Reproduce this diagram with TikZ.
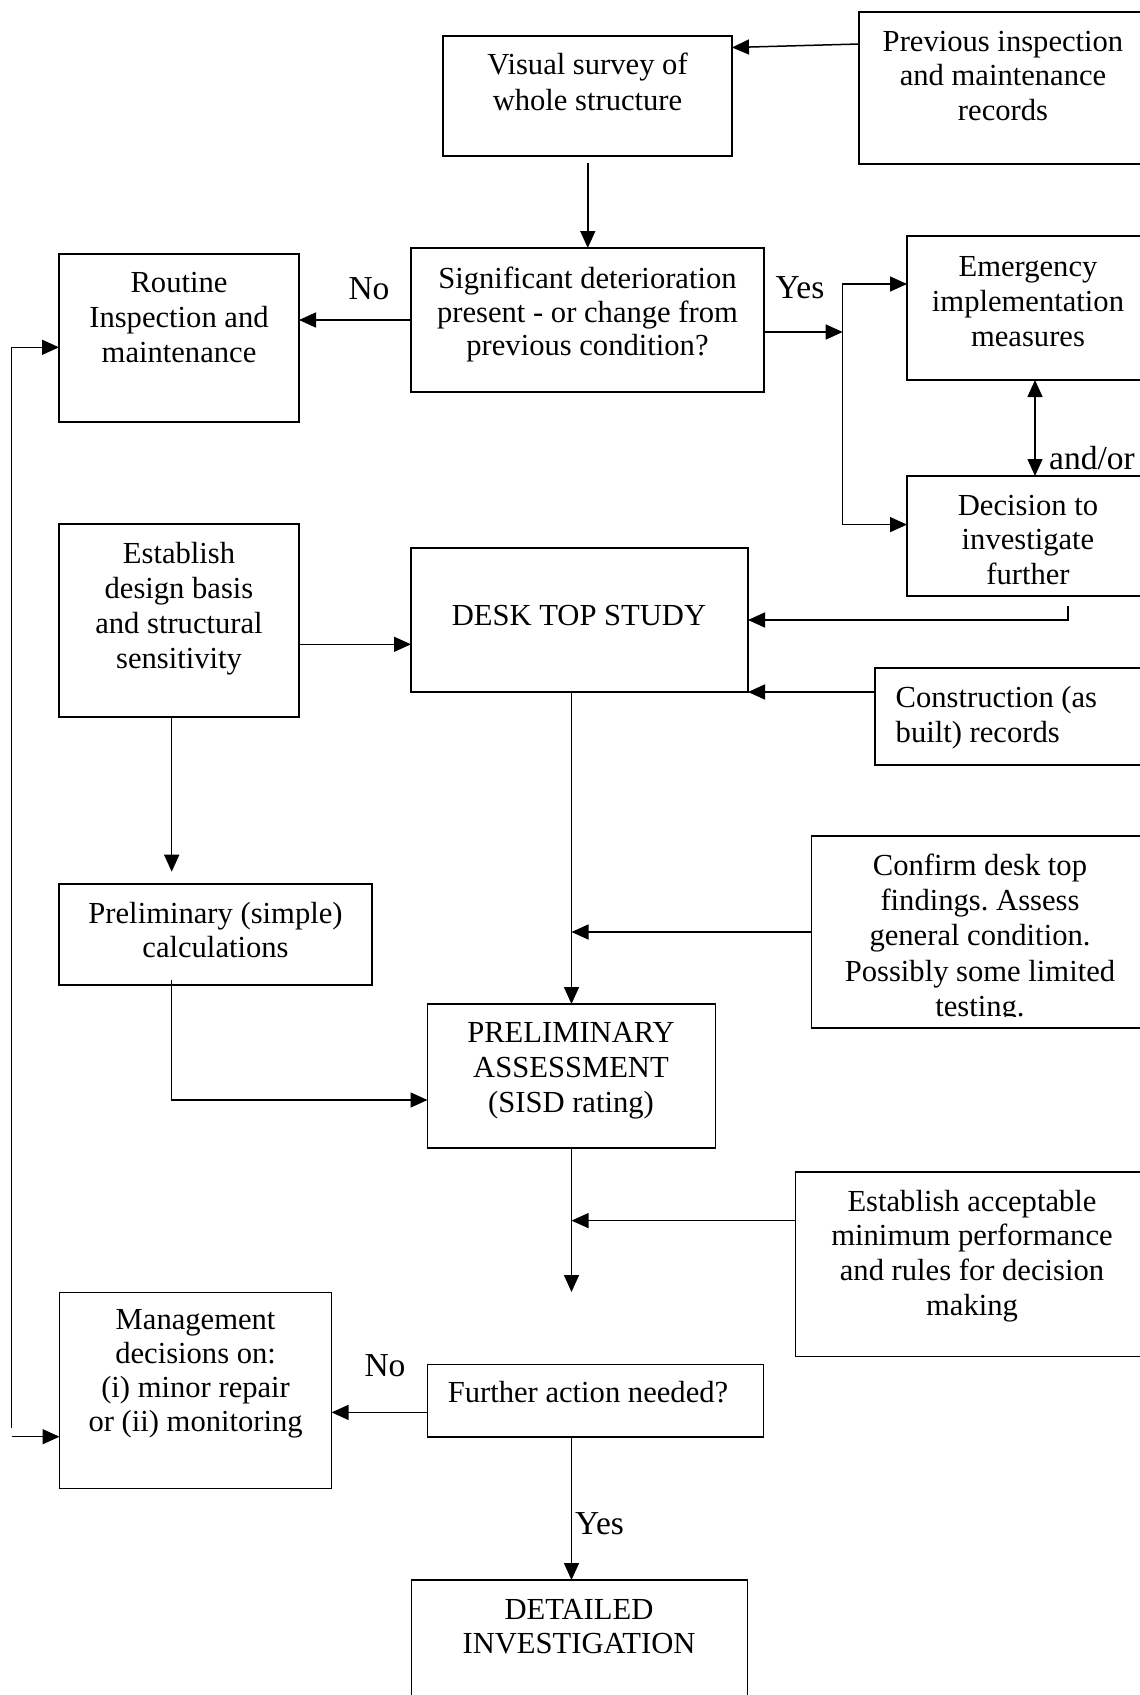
\documentclass[tikz,border=0pt]{standalone}
\usepackage{fontspec}
\setmainfont{Liberation Serif}
\usetikzlibrary{arrows.meta,calc}
\frenchspacing
\begin{document}
\begin{tikzpicture}[x=1pt,y=-1pt,
  bx/.style={draw,rectangle,line width=1.7pt,inner sep=0pt,outer sep=0pt},
  txt/.style={inner sep=0pt,align=center,font=\fontsize{30.6}{35}\selectfont},
  lbl/.style={inner sep=0pt,anchor=base,font=\fontsize{33.5}{38}\selectfont},
  arr/.style={line width=1.5pt,-{Triangle[length=17pt,width=15pt]}},
  arrb/.style={line width=1.5pt,{Triangle[length=17pt,width=15pt]}-{Triangle[length=17pt,width=15pt]}},
  ln/.style={line width=1.5pt}]
\useasboundingbox (0,0) rectangle (1140,1695);
\fill[white] (0,0) rectangle (1140,1695);

% boxes
\node[bx,minimum width=289pt,minimum height=120pt] (visual) at (587.5,96) {};
\node[bx,minimum width=291pt,minimum height=152pt] (prev) at (1004.5,88) {};
\node[bx,minimum width=353pt,minimum height=144pt] (sig) at (587.5,320) {};
\node[bx,minimum width=243pt,minimum height=144pt] (emerg) at (1028.5,308) {};
\node[bx,minimum width=243pt,minimum height=120pt] (decision) at (1028.5,536) {};
\node[bx,minimum width=240pt,minimum height=168pt] (routine) at (179,338) {};
\node[bx,minimum width=240pt,minimum height=193pt] (establish) at (179,620.5) {};
\node[bx,minimum width=337pt,minimum height=144pt] (desk) at (579.5,620) {};
\node[bx,minimum width=275pt,minimum height=97pt] (constr) at (1012.5,716.5) {};
\node[bx,minimum width=338.5pt,minimum height=192pt] (confirm) at (980.75,932) {};
\node[bx,minimum width=313pt,minimum height=101pt] (pcalc) at (215.5,934.5) {};
\node[bx,minimum width=288pt,minimum height=144pt] (passess) at (571.5,1076) {};
\node[bx,minimum width=354.4pt,minimum height=184.5pt] (estacc) at (972.8,1264.25) {};
\node[bx,minimum width=272.1pt,minimum height=196pt] (mgmt) at (195.55,1390.5) {};
\node[bx,minimum width=336pt,minimum height=72.5pt] (further) at (595.6,1400.75) {};
\node[bx,minimum width=336.1pt,minimum height=140pt] (detailed) at (579.55,1650) {};

% texts
\node[txt,anchor=north,font=\fontsize{30.6}{35.5}\selectfont] (visual-t) at (587.5,53) {Visual survey of\\whole structure};
\node[txt,anchor=north,font=\fontsize{30.6}{34.5}\selectfont] (prev-t) at (1003,31) {Previous inspection\\and maintenance\\records};
\node[txt,anchor=north,font=\fontsize{30.6}{33.7}\selectfont] (sig-t) at (587.5,266.7) {Significant deterioration\\present - or change from\\previous condition?};
\node[txt,anchor=north] (emerg-t) at (1028,256) {Emergency\\implementation\\measures};
\node[txt,anchor=north,font=\fontsize{30.6}{34.5}\selectfont] (decision-t) at (1028,495) {Decision to\\investigate\\further};
\node[txt,anchor=north] (routine-t) at (179,272.3) {Routine\\Inspection and\\maintenance};
\node[txt,anchor=north] (establish-t) at (179,542.3) {Establish\\design basis\\and structural\\sensitivity};
\node[txt,anchor=base] (desk-t) at (579,625.7) {DESK TOP STUDY};
\node[txt,anchor=north west,align=left,font=\fontsize{30.6}{35.7}\selectfont] (constr-t) at (895.5,685.8) {Construction (as\\built) records};
\begin{scope}
\clip (811.5,836) rectangle (1150,1016);
\node[txt,anchor=north,font=\fontsize{30.6}{35.3}\selectfont] (confirm-t) at (980,853.6) {Confirm desk top\\findings. Assess\\general condition.\\Possibly some limited\\testing.};
\end{scope}
\node[txt,anchor=north,font=\fontsize{30.6}{34}\selectfont] (pcalc-t) at (215.5,902.3) {Preliminary (simple)\\calculations};
\node[txt,anchor=north] (passess-t) at (571,1021.7) {PRELIMINARY\\ASSESSMENT\\(SISD rating)};
\node[txt,anchor=north,font=\fontsize{30.6}{34.7}\selectfont] (estacc-t) at (972,1189.8) {Establish acceptable\\minimum performance\\and rules for decision\\making};
\node[txt,anchor=north,font=\fontsize{30.6}{34}\selectfont] (mgmt-t) at (195.6,1309) {Management\\decisions on:\\(i) minor repair\\or (ii) monitoring};
\node[txt,anchor=base] (further-t) at (588,1402) {Further action needed?};
\node[txt,anchor=north,font=\fontsize{30.6}{34}\selectfont] (detailed-t) at (579,1599) {DETAILED\\INVESTIGATION};

% labels
\node[lbl] (no1) at (369,299.3) {No};
\node[lbl] (yes1) at (800,298.3) {Yes};
\node[lbl] (andor) at (1092,469) {and/or};
\node[lbl] (no2) at (385,1376) {No};
\node[lbl,anchor=base west] (yes2) at (575,1534) {Yes};

% free-end coordinates
\coordinate (split) at (842.7,332);
\coordinate (dtop) at (1067.8,605.7);
\coordinate (c1) at (171.7,871.7);
\coordinate (c1s) at (171.7,980);
\coordinate (c2) at (571.5,1292);
\coordinate (fb) at (11.5,1428);
\coordinate (fb2) at (11.5,1436.7);
\coordinate (vtop) at (587.8,163);

% connectors
\draw[arr] ([yshift=44pt]prev.west) -- ([yshift=48.5pt]visual.east);
\draw[arr] (vtop) -- (vtop |- sig.north);
\draw[arr] (sig.west) -- (sig.west -| routine.east);
\draw[arr] ([yshift=-12pt]sig.east) -- (split);
\draw[arr] (split) |- ([yshift=24pt]emerg.west);
\draw[arr] (split) |- ([yshift=11.4pt]decision.west);
\draw[arrb] ([xshift=6.5pt]emerg.south) -- ([xshift=6.5pt]decision.north);
\draw[arr] (dtop) |- (desk.east);
\draw[arr] ([yshift=24.5pt]constr.west) -- (desk.south east);
\draw[arr] ([yshift=-23.8pt]establish.east) -- ([yshift=-24.3pt]desk.west);
\draw[arr] (c1 |- establish.south) -- (c1);
\draw[arr] (c1s) |- ([yshift=-24pt]passess.west);
\draw[arr] (passess.north |- desk.south) -- (passess.north);
\draw[arr] (confirm.west) -- (confirm.west -| passess.north);
\draw[arr] (passess.south) -- (c2);
\draw[arr] ([yshift=43.65pt]estacc.west) -- ([yshift=43.65pt]estacc.west -| c2);
\draw[arr] ([yshift=-11.65pt]further.west) -- ([yshift=-11.65pt]further.west -| mgmt.east);
\draw[arr] (further.south -| c2) -- (detailed.north -| c2);
\draw[arr] (fb) |- ([yshift=-9.3pt]routine.west);
\draw[arr] (fb2) -- (fb2 -| mgmt.west);
\end{tikzpicture}
\end{document}
